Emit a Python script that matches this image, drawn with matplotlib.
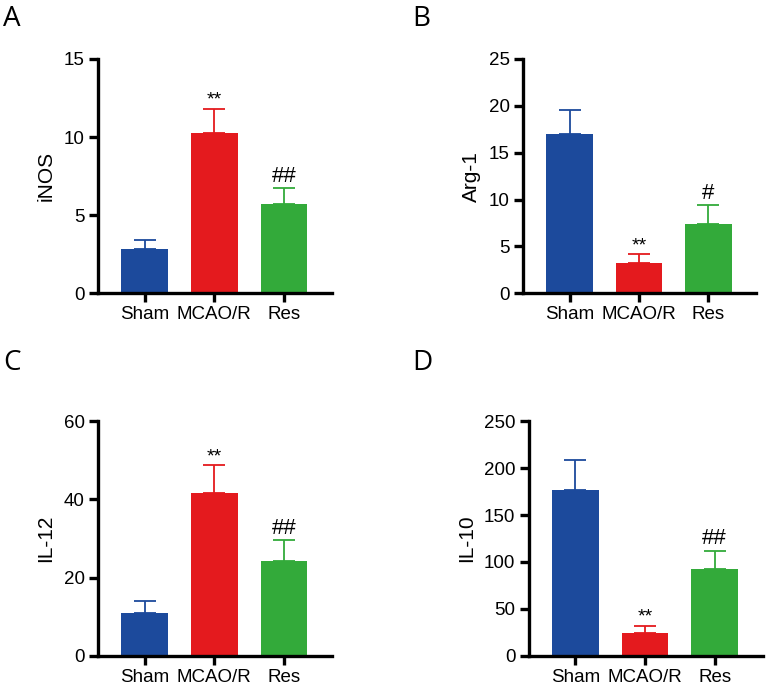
import numpy as np
import matplotlib
matplotlib.use("Agg")
import matplotlib.pyplot as plt

plt.rcParams["font.family"] = ["Liberation Sans", "DejaVu Sans"]

# 数据
groups = ["Sham", "MCAO/R", "Res"]
colors = ["#1c4a9c", "#e41a1e", "#33aa3a"]

inos_mean = [2.82, 10.26, 5.72]
inos_err = [0.59, 1.54, 1.00]

arg1_mean = [16.97, 3.20, 7.39]
arg1_err = [2.63, 0.99, 2.03]

il12_mean = [11.0, 41.6, 24.2]
il12_err = [2.9, 7.1, 5.4]

il10_mean = [177.1, 24.5, 92.8]
il10_err = [31.7, 7.5, 19.2]

panels = [
    # letter, ylabel, mean, err, ymax, ystep, marks
    ("A", "iNOS", inos_mean, inos_err, 15, 5, ["", "**", "##"]),
    ("B", "Arg-1", arg1_mean, arg1_err, 25, 5, ["", "**", "#"]),
    ("C", "IL-12", il12_mean, il12_err, 60, 20, ["", "**", "##"]),
    ("D", "IL-10", il10_mean, il10_err, 250, 50, ["", "**", "##"]),
]

# 坐标轴位置 (figure fraction)
axes_rects = [
    [0.1278, 0.5737, 0.305, 0.3406],
    [0.6819, 0.5737, 0.304, 0.3406],
    [0.1278, 0.0470, 0.305, 0.3406],
    [0.6893, 0.0470, 0.305, 0.3406],
]
letter_pos = [(0.004, 0.993), (0.537, 0.993), (0.004, 0.493), (0.537, 0.493)]

fig = plt.figure(figsize=(7.67, 6.88), dpi=100)

for (letter, ylabel, mean, err, ymax, ystep, marks), rect, lp in zip(
    panels, axes_rects, letter_pos
):
    ax = fig.add_axes(rect)
    x = np.arange(len(groups))
    ax.bar(x, mean, width=0.67, color=colors, zorder=2)
    for i in range(len(groups)):
        ax.errorbar(
            x[i], mean[i], yerr=[[0], [err[i]]], fmt="none",
            ecolor=colors[i], elinewidth=1.3, capsize=8, capthick=1.3, zorder=1,
        )
        if marks[i]:
            is_star = marks[i].startswith("*")
            ax.annotate(
                marks[i], (x[i], mean[i] + err[i]),
                xytext=(0, 0 if is_star else 1), textcoords="offset points",
                ha="center", va="bottom", fontsize=14 if is_star else 16,
            )

    ax.set_xlim(-0.67, 2.69)
    ax.set_ylim(0, ymax)
    ax.set_yticks(np.arange(0, ymax + 0.1, ystep))
    ax.set_xticks(x)
    ax.set_xticklabels(groups)
    ax.set_ylabel(ylabel, fontsize=15, labelpad=6)
    ax.tick_params(axis="both", labelsize=13.5, width=2.4, length=6.5, pad=3)

    for side in ["top", "right"]:
        ax.spines[side].set_visible(False)
    for side in ["left", "bottom"]:
        ax.spines[side].set_linewidth(2.4)

    fig.text(lp[0], lp[1], letter, fontsize=20, ha="left", va="top",
             family=["Open Sans", "DejaVu Sans"])

fig.savefig("out.png", dpi=100)
